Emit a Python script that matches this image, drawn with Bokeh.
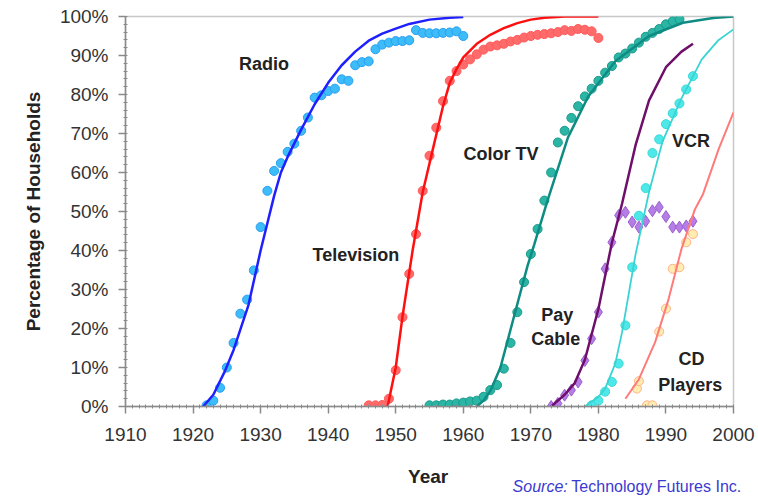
from bokeh.plotting import figure
from bokeh.models import Range1d, FixedTicker, PrintfTickFormatter, Label
from bokeh.embed import file_html
from bokeh.resources import INLINE

# ---------------- data ----------------
radio_year = list(range(1922, 1961))
radio_pct = [0.3, 1.5, 4.8, 10, 16.3, 23.8, 27.4, 34.9, 46, 55.3, 60.4, 62.4, 65.3, 67.4,
             70.7, 74.1, 79.2, 79.8, 80.9, 81.5, 83.9, 83.5, 87.5, 88.3, 88.5, 91.6, 92.8,
             93.3, 93.7, 93.7, 93.9, 96.5, 95.8, 95.7, 95.7, 95.8, 95.9, 96.2, 95.0]
radio_fit_year = [1921.5, 1923, 1924.7, 1926, 1928.2, 1930, 1932, 1933, 1934, 1936, 1938, 1940,
                  1942, 1944, 1946, 1948, 1950, 1952, 1955, 1958, 1960]
radio_fit_pct = [0, 3, 9, 14.5, 26, 40, 54, 60, 64, 71, 77.5, 83, 87.5, 91, 93.8, 95.6, 96.9, 98.1,
                 99.2, 99.7, 99.9]

tv_year = list(range(1946, 1981))
tv_pct = [0.3, 0.3, 0.4, 2, 9.3, 22.9, 34, 44.2, 55.3, 64.3, 71.5, 78.3, 83.5, 86, 87.7, 89,
          90.3, 91.5, 92.3, 92.6, 93.0, 93.6, 94.0, 94.6, 95.0, 95.3, 95.5, 95.7, 96.0, 96.5,
          96.3, 96.8, 96.6, 96.2, 94.5]
tv_fit_year = [1948.8, 1950, 1951, 1952.5, 1954, 1955.5, 1957, 1958, 1959, 1960, 1962, 1964,
               1966, 1968, 1970, 1972, 1975, 1980]
tv_fit_pct = [0, 10, 23, 40, 55, 66, 77, 83, 86.5, 89.5, 93, 95.3, 97, 98.3, 99.2, 99.7, 100, 100]

ctv_year = list(range(1955, 1993))
ctv_pct = [0.3, 0.3, 0.5, 0.5, 0.8, 1, 1.3, 1.5, 2.5, 4.2, 5.5, 9.7, 16.3, 24.2, 31.9, 39.1,
           45.5, 52.8, 60, 67.7, 70.7, 74, 77, 79.5, 81.5, 83.5, 85.6, 87.3, 89.5, 90.5, 91.8,
           93.3, 94.8, 95.8, 96.8, 98, 98.8, 99.3]
ctv_fit_year = [1962, 1963, 1964, 1965.5, 1967.5, 1969.5, 1970.5, 1972.5, 1975.5, 1978.5,
                1982.5, 1987.5, 1992.5, 1997, 2000]
ctv_fit_pct = [0, 1.5, 4, 10, 23, 36, 41.5, 53, 69, 79.5, 88.5, 95, 98.4, 99.6, 100]

pay_year = list(range(1973, 1995))
pay_pct = [0, 0.8, 2.9, 4.2, 6.3, 11.8, 17.4, 24.2, 35.3, 42.1, 49, 49.8, 47.3, 46, 47.5,
           50.2, 51.1, 48.7, 46, 46, 46.3, 47.5]
pay_fit_year = [1973, 1975, 1976.5, 1978, 1980, 1982, 1983.5, 1985.5, 1987.5, 1990, 1992.3, 1994]
pay_fit_pct = [0, 3, 6, 12, 25, 42, 52, 67, 78.5, 87, 91, 93]

vcr_year = list(range(1979, 1995))
vcr_pct = [0.3, 1.5, 3.8, 6.3, 11, 20.8, 35.7, 48.9, 56, 65, 68.5, 72.4, 75.2, 77.7, 81.3, 84.7]
vcr_fit_year = [1978, 1980, 1981, 1982.5, 1983.5, 1985.5, 1987.5, 1989.5, 1992.3, 1995.3,
                1997.8, 2000]
vcr_fit_pct = [0, 2.5, 4.6, 11, 19, 39, 55, 68, 79, 89, 94, 96.7]

cd_year = [1985.7, 1986, 1987.2, 1988, 1989, 1990, 1991, 1992, 1993, 1994]
cd_pct = [4.6, 6.5, 0.3, 0.3, 19.2, 25.1, 35.3, 35.7, 42.1, 44.2]
cd_fit_year = [1984, 1986, 1988.4, 1990.4, 1992.3, 1994.3, 1995.5, 1997.8, 2000]
cd_fit_pct = [2, 7, 16.5, 27.6, 40.4, 50.6, 54.5, 66, 75.4]

x_ticks = list(range(1910, 2001, 10))
y_ticks = list(range(0, 101, 10))

labels = [("Radio", 1930.5, 87.7), ("Television", 1944.1, 38.9), ("Color TV", 1965.6, 64.7),
          ("VCR", 1993.7, 68.1), ("Pay", 1973.9, 23.4), ("Cable", 1973.7, 17.2),
          ("CD", 1993.8, 12.3), ("Players", 1993.6, 5.6)]

FONT = "Liberation Sans"

p = figure(width=756, height=498, output_backend="svg", toolbar_location=None,
           x_range=Range1d(1910, 2000), y_range=Range1d(0, 100),
           min_border_left=125, min_border_right=23, min_border_top=16, min_border_bottom=90)
p.background_fill_color = "white"
p.border_fill_color = "white"
p.outline_line_color = "#c8c8c8"
p.outline_line_width = 1.5
p.grid.visible = False

# axes
for ax in (p.xaxis[0], p.yaxis[0]):
    ax.axis_line_color = "#8a8a8a"
    ax.axis_line_width = 1.5
    ax.major_tick_line_color = "#8a8a8a"
    ax.major_tick_line_width = 1.5
    ax.minor_tick_line_color = "#8a8a8a"
    ax.major_tick_in = 0
    ax.major_tick_out = 7
    ax.minor_tick_in = 2
    ax.minor_tick_out = 2
    ax.major_label_text_font = FONT
    ax.major_label_text_font_size = "19px"
    ax.major_label_text_color = "#333333"
    ax.axis_label_text_font = FONT
    ax.axis_label_text_font_size = "19px"
    ax.axis_label_text_font_style = "bold"
    ax.axis_label_text_color = "#222222"

p.xaxis.ticker = FixedTicker(ticks=x_ticks, minor_ticks=list(range(1910, 2001)))
p.yaxis.ticker = FixedTicker(ticks=y_ticks, minor_ticks=list(range(0, 101, 2)))
p.yaxis.formatter = PrintfTickFormatter(format="%d%%")
p.yaxis.axis_label = "Percentage of Households"
p.xaxis.major_label_standoff = 14
p.yaxis.major_label_standoff = 10
p.yaxis.axis_label_standoff = 13

# scatter dots
p.scatter(radio_year, radio_pct, marker="circle", size=9, fill_color="#3cbcf8", line_color="#2a9ff0")
p.scatter(tv_year, tv_pct, marker="circle", size=9, fill_color="#ff6b6b", line_color="#ff5a5a")
p.scatter(ctv_year, ctv_pct, marker="circle", size=9, fill_color="#2ab5a5", line_color="#1a9a8c")
p.scatter(vcr_year, vcr_pct, marker="circle", size=9, fill_color="#4ee8e8", line_color="#3ad8d8")
p.scatter(cd_year, cd_pct, marker="circle", size=9, fill_color="#ffecb0", line_color="#ffb38a")
p.scatter(pay_year, pay_pct, marker="diamond", size=12, fill_color="#b57ee6", line_color="#9a5fd0")

# fitted curves
p.line(radio_fit_year, radio_fit_pct, line_color="#1f1fff", line_width=2.5)
p.line(tv_fit_year, tv_fit_pct, line_color="#ff1010", line_width=2.5)
p.line(ctv_fit_year, ctv_fit_pct, line_color="#0e8c84", line_width=2.5)
p.line(pay_fit_year, pay_fit_pct, line_color="#6e0f6a", line_width=2.5)
p.line(vcr_fit_year, vcr_fit_pct, line_color="#3ad3d3", line_width=1.8)
p.line(cd_fit_year, cd_fit_pct, line_color="#ff7a7a", line_width=2)

for txt, xx, yy in labels:
    p.add_layout(Label(x=xx, y=yy, text=txt, text_align="center", text_baseline="middle",
                       text_font=FONT, text_font_size="18px", text_font_style="bold",
                       text_color="#222222"))

# texts below the frame live in the bottom side panel (not clipped there)
p.add_layout(Label(x=1954.8, y=-17.9, text="Year", text_align="center", text_baseline="middle",
                   text_font=FONT, text_font_size="19px", text_font_style="bold",
                   text_color="#222222"), "below")
p.add_layout(Label(x=1967.3, y=-20.4, text="Source:", text_align="left", text_baseline="middle",
                   text_font=FONT, text_font_size="16px", text_font_style="italic",
                   text_color="#3a3ad0"), "below")
p.add_layout(Label(x=1976.0, y=-20.4, text="Technology Futures Inc.", text_align="left",
                   text_baseline="middle", text_font=FONT, text_font_size="16px",
                   text_color="#3a3ad0"), "below")

open("out.html", "w").write(file_html(p, INLINE))
